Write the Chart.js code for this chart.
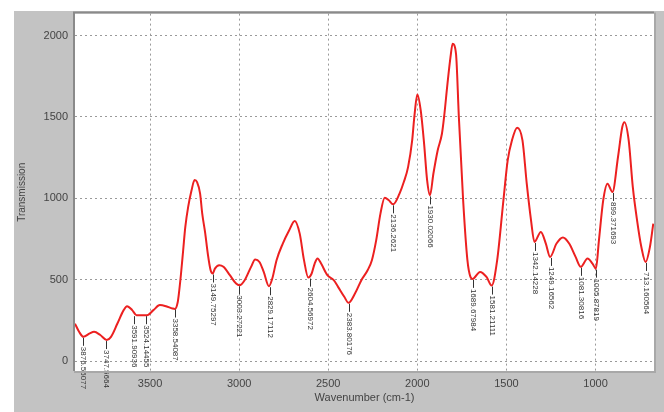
<!DOCTYPE html>
<html>
<head>
<meta charset="utf-8">
<script src="https://cdn.jsdelivr.net/npm/chart.js@4.4.1/dist/chart.umd.min.js"></script>
<style>
  html, body { margin: 0; padding: 0; background: #ffffff; }
  #wrap { width: 664px; height: 412px; position: relative; }
</style>
</head>
<body>
<div id="wrap"><canvas id="c" width="664" height="412"></canvas></div>
<script>
// Spectrum trace (wavenumber cm-1, transmission)
const wavenumbers = [3921, 3898, 3874, 3838, 3814, 3779, 3743, 3719, 3683, 3648, 3629, 3600, 3576, 3540, 3517, 3481, 3445, 3410, 3374, 3360, 3345, 3338, 3326, 3314, 3302, 3286, 3267, 3250, 3236, 3219, 3207, 3190, 3176, 3160, 3148, 3136, 3112, 3088, 3052, 3017, 2998, 2969, 2933, 2910, 2886, 2862, 2833, 2814, 2790, 2755, 2719, 2688, 2660, 2636, 2612, 2593, 2576, 2560, 2540, 2505, 2469, 2445, 2410, 2386, 2350, 2314, 2279, 2255, 2231, 2207, 2183, 2160, 2136, 2100, 2076, 2052, 2029, 2017, 2000, 1981, 1962, 1945, 1929, 1910, 1886, 1862, 1850, 1831, 1814, 1802, 1783, 1767, 1743, 1719, 1702, 1690, 1648, 1612, 1583, 1552, 1517, 1493, 1469, 1440, 1410, 1386, 1362, 1343, 1307, 1279, 1255, 1219, 1183, 1148, 1112, 1083, 1045, 1017, 998, 981, 957, 933, 905, 874, 850, 838, 814, 791, 767, 743, 719, 695, 676];
const transmission = [230, 180, 149, 170, 180, 160, 129, 149, 231, 313, 337, 313, 282, 282, 282, 313, 344, 337, 323, 320, 360, 415, 538, 681, 824, 947, 1049, 1112, 1100, 1029, 906, 783, 661, 558, 538, 568, 589, 579, 528, 476, 466, 497, 579, 624, 609, 548, 460, 507, 620, 722, 804, 861, 783, 620, 513, 538, 599, 630, 599, 528, 497, 456, 395, 358, 415, 497, 558, 620, 742, 906, 1004, 988, 963, 1029, 1100, 1192, 1356, 1499, 1638, 1540, 1335, 1110, 1018, 1151, 1294, 1397, 1499, 1703, 1867, 1949, 1888, 1499, 988, 620, 517, 505, 548, 517, 464, 620, 988, 1233, 1356, 1434, 1356, 1090, 865, 732, 793, 722, 640, 722, 759, 722, 640, 579, 630, 599, 568, 742, 988, 1090, 1039, 1254, 1438, 1468, 1356, 1070, 865, 701, 609, 701, 845];

// Peak-pick annotations
const peakPositions = [3876, 3747, 3592, 3524, 3358, 3149, 3003, 2829, 2604, 2383, 2136, 1930, 1689, 1581, 1342, 1252, 1081, 1000, 902, 716];
const peakValues    = [149, 129, 282, 282, 323, 538, 466, 460, 513, 358, 963, 1018, 505, 464, 732, 640, 579, 568, 1039, 609];
const peakLabels = ["3876.56077", "3747.5664", "3591.90936", "3524.14455", "3358.54087", "3149.75297", "3003.27221", "2829.17112", "2604.56972", "2383.80176", "2136.2621", "1930.02066", "1689.67984", "1581.21111", "1342.14228", "1249.16562", "1081.30816", "1005.87819", "899.371693", "713.160564"];

const xTicks = [1000, 1500, 2000, 2500, 3000, 3500];
const yTicks = [0, 500, 1000, 1500, 2000];

const xTitle = "Wavenumber (cm-1)";
const yTitle = "Transmission";

const points = wavenumbers.map((w, i) => ({ x: w, y: transmission[i] }));

const framePlugin = {
  id: 'frame',
  beforeDraw(chart) {
    const { ctx, chartArea: a } = chart;
    ctx.save();
    ctx.fillStyle = '#ffffff';
    ctx.fillRect(0, 0, chart.width, chart.height);
    ctx.fillStyle = '#c3c3c3';
    ctx.fillRect(14, 11, chart.width - 14, chart.height - 11);
    ctx.fillStyle = '#ffffff';
    ctx.fillRect(a.left, a.top, a.right - a.left, a.bottom - a.top);
    ctx.restore();
  },
  afterDraw(chart) {
    const { ctx, chartArea: a } = chart;
    ctx.save();
    ctx.strokeStyle = '#8a8a8a';
    ctx.lineWidth = 2;
    ctx.beginPath();
    ctx.moveTo(a.left - 1, a.bottom);
    ctx.lineTo(a.left - 1, a.top - 1);
    ctx.lineTo(a.right, a.top - 1);
    ctx.stroke();
    ctx.strokeStyle = '#a8a8a8';
    ctx.beginPath();
    ctx.moveTo(a.right + 1, a.top - 1);
    ctx.lineTo(a.right + 1, a.bottom + 1);
    ctx.lineTo(a.left - 1, a.bottom + 1);
    ctx.stroke();
    ctx.restore();
  }
};

const peakPlugin = {
  id: 'peaks',
  afterDatasetsDraw(chart) {
    const { ctx, scales: { x, y } } = chart;
    ctx.save();
    ctx.font = '8px "Liberation Sans", Arial, sans-serif';
    ctx.fillStyle = '#333333';
    ctx.strokeStyle = '#333333';
    ctx.lineWidth = 1;
    peakPositions.forEach((p, i) => {
      const px = Math.round(x.getPixelForValue(p)) + 0.5;
      const py = y.getPixelForValue(peakValues[i]);
      ctx.beginPath();
      ctx.moveTo(px, py + 1);
      ctx.lineTo(px, py + 9);
      ctx.stroke();
      ctx.save();
      ctx.translate(px, py + 10);
      ctx.rotate(Math.PI / 2);
      ctx.textAlign = 'left';
      ctx.textBaseline = 'middle';
      ctx.fillText(peakLabels[i], 0, 0);
      ctx.restore();
    });
    ctx.restore();
  }
};

const tickFont = { size: 11, family: '"Liberation Sans", Arial, sans-serif' };

new Chart(document.getElementById('c'), {
  type: 'line',
  data: {
    datasets: [{
      data: points,
      borderColor: 'rgb(236, 32, 32)',
      borderWidth: 2,
      pointRadius: 0,
      fill: false,
      cubicInterpolationMode: 'monotone'
    }]
  },
  options: {
    responsive: false,
    animation: false,
    devicePixelRatio: 1,
    layout: { padding: { left: 14, top: 12, right: 10, bottom: 0 } },
    plugins: { legend: { display: false }, tooltip: { enabled: false } },
    scales: {
      x: {
        type: 'linear',
        reverse: true,
        min: 672,
        max: 3921,
        afterBuildTicks(s) { s.ticks = xTicks.map(v => ({ value: v })); },
        afterFit(s) { s.height = 41; },
        border: { display: false, dash: [2, 3] },
        grid: { color: '#9a9a9a', lineWidth: 1, drawTicks: false },
        ticks: { color: '#444', font: tickFont, padding: 6, maxRotation: 0, autoSkip: false, callback: v => String(v) },
        title: { display: true, text: xTitle, color: '#444', font: tickFont, padding: { top: 0, bottom: 7 } }
      },
      y: {
        min: -61,
        max: 2135,
        afterBuildTicks(s) { s.ticks = yTicks.map(v => ({ value: v })); },
        afterFit(s) { s.width = 61; },
        border: { display: false, dash: [2, 3] },
        grid: { color: '#9a9a9a', lineWidth: 1, drawTicks: false },
        ticks: { color: '#444', font: tickFont, padding: 7, callback: v => String(v) },
        title: { display: true, text: yTitle, color: '#444', font: { size: 10, family: '"Liberation Sans", Arial, sans-serif' }, padding: { top: 2, bottom: 0 } }
      }
    }
  },
  plugins: [framePlugin, peakPlugin]
});
</script>
</body>
</html>
